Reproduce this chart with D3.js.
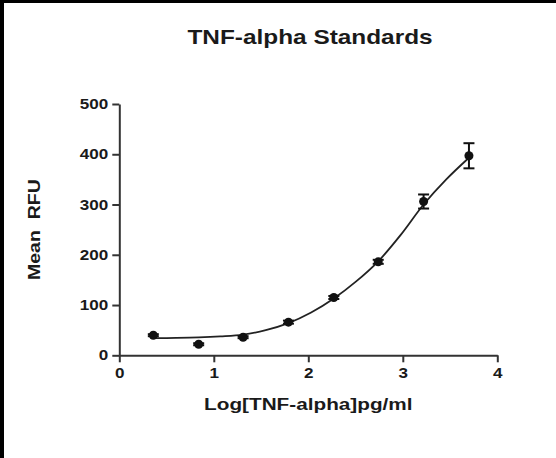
<!DOCTYPE html>
<html>
<head>
	<meta http-equiv="Content-Type" content="text/html; charset=utf-8">
	<title>TNF-alpha Standards</title>
	<script src="https://d3js.org/d3.v7.min.js"></script>
	<style>
		html, body {
			margin: 0;
			padding: 0;
			background: #fff;
		}
		#frame {
			width: 552px;
			height: 455px;
			border-top: 3px solid #000;
			border-left: 4px solid #000;
			background: #fff;
		}
		svg text {
			font-family: 'Liberation Sans', Arial, sans-serif;
			font-weight: bold;
			fill: #1a1a1a;
		}
		.axis path, .axis line {
			stroke: #333;
			stroke-width: 2px;
		}
		.axis text {
			font-size: 14px;
		}
	</style>
</head>
<body>
	<div id="frame"></div>
<script>
	// standards, log10 of concentration (pg/ml) and mean RFU
	var logConc = [0.36, 0.84, 1.31, 1.79, 2.27, 2.74, 3.22, 3.70];
	var meanRfu = [40, 22, 36, 66, 115, 186, 306, 397];
	var errRfu  = [2, 2, 2, 3, 3, 4, 14, 25];

	// fitted curve
	var fitX = [0.36, 0.60, 0.84, 1.07, 1.31, 1.55, 1.79, 2.03, 2.27, 2.50, 2.74, 2.98, 3.22, 3.46, 3.70];
	var fitY = [34, 34.5, 35.5, 37.5, 41, 50, 64, 85, 113, 146, 187, 240, 300, 350, 393];

	var xTicks = [0, 1, 2, 3, 4];
	var yTicks = [0, 100, 200, 300, 400, 500];

	var width = 552, height = 455;
	var stretch = 1.22;   // the source picture has wide glyphs

	// frame is offset by the border, so plot coords are shifted by it
	var x = d3.scaleLinear().domain([0, 4]).range([115.3, 493.3]);
	var y = d3.scaleLinear().domain([0, 500]).range([352.3, 101]);

	var svg = d3.select("#frame").append("svg")
			.attr("width", width)
			.attr("height", height);

	// title
	svg.append("g")
			.attr("transform", "translate(306,41) scale(" + stretch + ",1)")
			.append("text")
			.attr("text-anchor", "middle")
			.style("font-size", "20px")
			.text("TNF-alpha Standards");

	// axes
	svg.append("g")
			.attr("class", "axis")
			.attr("transform", "translate(0," + y(0) + ")")
			.call(d3.axisBottom(x).tickValues(xTicks).tickSize(7).tickSizeOuter(0).tickPadding(6)
				.tickFormat(d3.format("d")))
			.selectAll("text")
			.attr("transform", "scale(" + stretch + ",1)");

	svg.append("g")
			.attr("class", "axis")
			.attr("transform", "translate(" + x(0) + ",0)")
			.call(d3.axisLeft(y).tickValues(yTicks).tickSize(7).tickSizeOuter(0).tickPadding(2)
				.tickFormat(d3.format("d")))
			.selectAll("text")
			.attr("transform", "scale(" + stretch + ",1)");

	// axis labels
	svg.append("g")
			.attr("transform", "translate(" + (x(0) + x(4)) / 2 + ",407) scale(" + stretch + ",1)")
			.append("text")
			.attr("text-anchor", "middle")
			.style("font-size", "17px")
			.text("Log[TNF-alpha]pg/ml");

	svg.append("g")
			.attr("transform", "translate(36," + (y(0) + y(500)) / 2 + ") rotate(-90) scale(" + stretch + ",1)")
			.append("text")
			.attr("text-anchor", "middle")
			.style("font-size", "16px")
			.style("white-space", "pre")
			.text("Mean  RFU");

	// fitted curve
	var line = d3.line()
			.x(function(d, i) { return x(fitX[i]); })
			.y(function(d) { return y(d); })
			.curve(d3.curveCatmullRom);

	svg.append("path")
			.datum(fitY)
			.attr("d", line)
			.style("fill", "none")
			.style("stroke", "#222")
			.style("stroke-width", 1.8);

	// error bars
	var bars = svg.append("g").selectAll(".err")
			.data(meanRfu)
			.enter()
			.append("g")
			.attr("class", "err")
			.style("stroke", "#111")
			.style("stroke-width", 2);

	bars.append("line")
			.attr("x1", function(d, i) { return x(logConc[i]); })
			.attr("x2", function(d, i) { return x(logConc[i]); })
			.attr("y1", function(d, i) { return y(d - errRfu[i]); })
			.attr("y2", function(d, i) { return y(d + errRfu[i]); });

	bars.selectAll(".cap")
			.data(function(d, i) { return [[i, d - errRfu[i]], [i, d + errRfu[i]]]; })
			.enter()
			.append("line")
			.attr("class", "cap")
			.attr("x1", function(c) { return x(logConc[c[0]]) - 5.5; })
			.attr("x2", function(c) { return x(logConc[c[0]]) + 5.5; })
			.attr("y1", function(c) { return y(c[1]); })
			.attr("y2", function(c) { return y(c[1]); });

	// points
	svg.append("g").selectAll("circle")
			.data(meanRfu)
			.enter()
			.append("circle")
			.attr("cx", function(d, i) { return x(logConc[i]); })
			.attr("cy", function(d) { return y(d); })
			.attr("r", 4.5)
			.style("fill", "#111");
</script>
</body>
</html>
